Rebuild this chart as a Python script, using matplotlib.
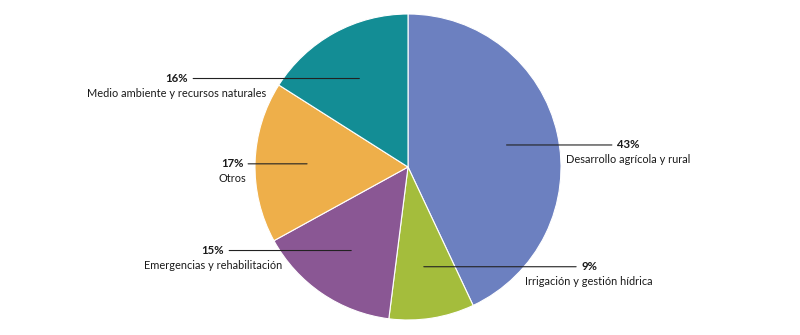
import numpy as np
import matplotlib
matplotlib.use("Agg")
import matplotlib.pyplot as plt

plt.rcParams['font.family'] = ['Lato', 'DejaVu Sans']

categorias = ['Desarrollo agrícola y rural', 'Irrigación y gestión hídrica',
              'Emergencias y rehabilitación', 'Otros',
              'Medio ambiente y recursos naturales']
porcentajes = [43, 9, 15, 17, 16]
colores = ['#6c80c0', '#a4bd3c', '#8a5794', '#eeaf4a', '#138d95']

# centro horizontal de cada etiqueta, en pixeles de la figura
etiqueta_x_px = [628, 589, 213, 232, 177]

W, H = 800, 335
cx, cy, r_px = 408, 167, 153

fig = plt.figure(figsize=(W / 100, H / 100), dpi=100)
ax = fig.add_axes([0, 0, 1, 1])

wedges, _ = ax.pie(porcentajes, colors=colores, startangle=90, counterclock=False,
                   radius=1, center=(0, 0),
                   wedgeprops=dict(edgecolor='white', linewidth=0.8))
ax.set_xlim(-cx / r_px, (W - cx) / r_px)
ax.set_ylim(-(H - cy) / r_px, cy / r_px)
ax.set_aspect('equal')
ax.axis('off')

for w, cat, pct, lx in zip(wedges, categorias, porcentajes, etiqueta_x_px):
    ang = np.deg2rad((w.theta1 + w.theta2) / 2)
    x0, y0 = 0.66 * np.cos(ang), 0.66 * np.sin(ang)
    tx = (lx - cx) / r_px
    ax.annotate(f'{pct}%', xy=(x0, y0), xytext=(tx, y0), ha='center', va='center',
                fontsize=8.2, fontweight='bold', color='#1a1a1a',
                arrowprops=dict(arrowstyle='-', color='#222222', lw=0.8,
                                shrinkA=1.5, shrinkB=0))
    ax.text(tx, y0 - 0.095, cat, ha='center', va='center', fontsize=7.9,
            color='#1a1a1a')

fig.savefig('out.png', dpi=100)
